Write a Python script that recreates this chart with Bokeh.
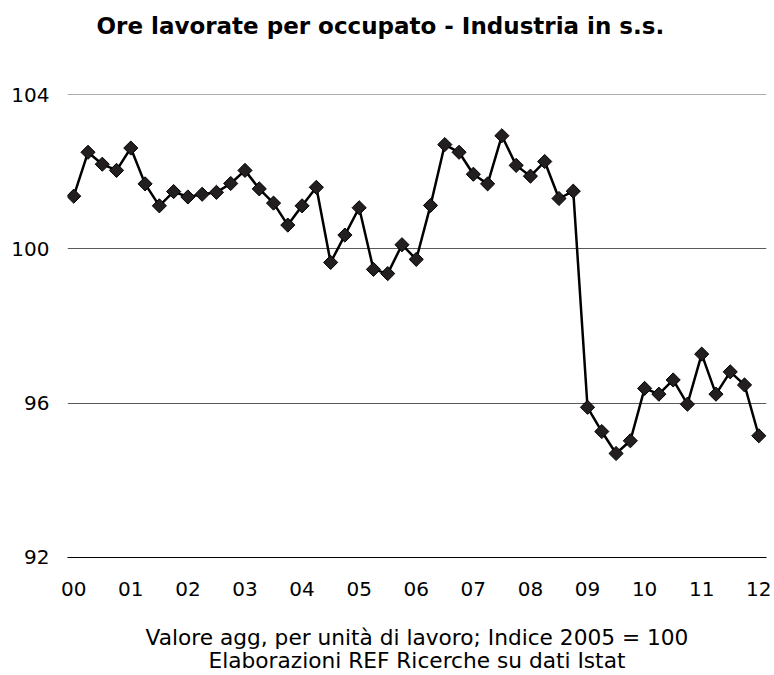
import numpy as np
from bokeh.plotting import figure
from bokeh.models import FixedTicker, Range1d, ColumnDataSource, Title
from bokeh.embed import file_html
from bokeh.resources import INLINE

# ---- data ----
years = ["00", "01", "02", "03", "04", "05", "06", "07", "08", "09", "10", "11", "12"]
values = [
    101.37, 102.51, 102.20, 102.04, 102.62, 101.69, 101.12, 101.49,
    101.35, 101.42, 101.47, 101.70, 102.04, 101.56, 101.19, 100.62,
    101.12, 101.60, 99.65, 100.36, 101.07, 99.47, 99.36, 100.11,
    99.73, 101.13, 102.71, 102.51, 101.94, 101.69, 102.94, 102.17,
    101.89, 102.27, 101.31, 101.50, 95.89, 95.26, 94.69, 95.02,
    96.38, 96.23, 96.60, 95.97, 97.27, 96.23, 96.81, 96.47,
    95.15,
]
y_ticks = [92, 96, 100, 104]

title_text = "Ore lavorate per occupato - Industria in s.s."
note1 = "Valore agg, per unità di lavoro; Indice 2005 = 100"
note2 = "Elaborazioni REF Ricerche su dati Istat"

FONT = "DejaVu Sans"

x = np.arange(len(values)) / 4.0
src = ColumnDataSource(dict(x=x, y=values))

W, H = 774, 675
BL, BR, BT, BB = 67, 8, 94, 117

p = figure(
    width=W, height=H, title=None,
    x_range=Range1d(-0.109, 12.135), y_range=Range1d(91.99, 104.01),
    toolbar_location=None, output_backend="svg",
    min_border_left=BL, min_border_right=BR, min_border_top=BT, min_border_bottom=BB,
)
p.outline_line_color = None
p.background_fill_color = "white"
p.border_fill_color = "white"

# spacer (nearest the frame) then the real title above it
spacer = Title(text=" ", text_font=FONT, text_font_size="10px", standoff=43)
p.add_layout(spacer, "above")
title = Title(text=title_text, text_font=FONT, text_font_size="23px",
              text_font_style="bold", text_color="black",
              align="left", offset=29, standoff=0)
p.add_layout(title, "above")

# axes
p.xaxis.ticker = FixedTicker(ticks=list(range(len(years))))
p.xaxis.major_label_overrides = {i: s for i, s in enumerate(years)}
p.xaxis.major_tick_line_color = None
p.xaxis.minor_tick_line_color = None
p.xaxis.axis_line_color = "black"
p.xaxis.major_label_text_font = FONT
p.xaxis.major_label_text_font_size = "20px"
p.xaxis.major_label_text_color = "black"
p.xaxis.major_label_standoff = 18

p.xaxis.axis_label = note1 + "\n" + note2
p.xaxis.axis_label_text_font = FONT
p.xaxis.axis_label_text_font_size = "21.7px"
p.xaxis.axis_label_text_font_style = "normal"
p.xaxis.axis_label_text_color = "black"
p.xaxis.axis_label_text_line_height = 0.93
p.xaxis.axis_label_standoff = 26

p.yaxis.ticker = FixedTicker(ticks=y_ticks)
p.yaxis.major_tick_line_color = None
p.yaxis.minor_tick_line_color = None
p.yaxis.axis_line_color = None
p.yaxis.major_label_text_font = FONT
p.yaxis.major_label_text_font_size = "20px"
p.yaxis.major_label_text_color = "black"
p.yaxis.major_label_standoff = 12

p.xgrid.grid_line_color = None
p.ygrid.grid_line_color = "#5a5a5a"
p.ygrid.grid_line_width = 1

# series
p.line("x", "y", source=src, line_color="black", line_width=2.5)
p.scatter("x", "y", source=src, marker="square", size=10, angle=np.pi / 4,
          fill_color="#231f20", line_color="black", line_width=1)

html = file_html(p, INLINE)
open("out.html", "w").write(html)
